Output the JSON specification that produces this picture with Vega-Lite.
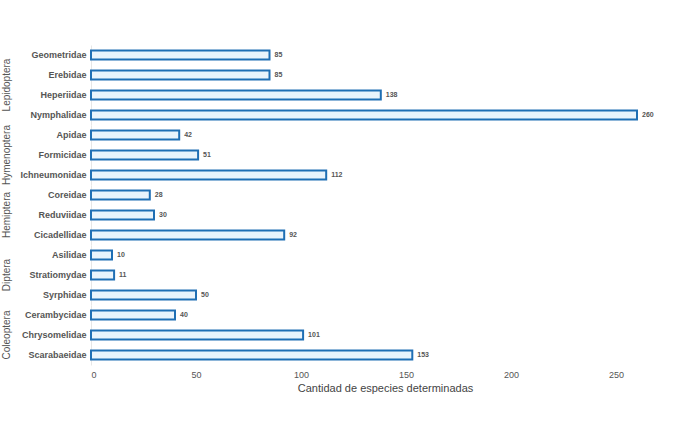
{
  "$schema": "https://vega.github.io/schema/vega-lite/v6.json",
  "padding": {"top": 45, "left": 2, "right": 5, "bottom": 5},
  "background": "white",
  "data": {
    "values": [
      {"orden": "Lepidoptera", "oi": 1, "familia": "Geometridae", "fi": 1, "n": 85},
      {"orden": "Lepidoptera", "oi": 1, "familia": "Erebidae", "fi": 2, "n": 85},
      {"orden": "Lepidoptera", "oi": 1, "familia": "Heperiidae", "fi": 3, "n": 138},
      {"orden": "Lepidoptera", "oi": 1, "familia": "Nymphalidae", "fi": 4, "n": 260},
      {"orden": "Hymenoptera", "oi": 2, "familia": "Apidae", "fi": 5, "n": 42},
      {"orden": "Hymenoptera", "oi": 2, "familia": "Formicidae", "fi": 6, "n": 51},
      {"orden": "Hymenoptera", "oi": 2, "familia": "Ichneumonidae", "fi": 7, "n": 112},
      {"orden": "Hemiptera", "oi": 3, "familia": "Coreidae", "fi": 8, "n": 28},
      {"orden": "Hemiptera", "oi": 3, "familia": "Reduviidae", "fi": 9, "n": 30},
      {"orden": "Hemiptera", "oi": 3, "familia": "Cicadellidae", "fi": 10, "n": 92},
      {"orden": "Diptera", "oi": 4, "familia": "Asilidae", "fi": 11, "n": 10},
      {"orden": "Diptera", "oi": 4, "familia": "Stratiomydae", "fi": 12, "n": 11},
      {"orden": "Diptera", "oi": 4, "familia": "Syrphidae", "fi": 13, "n": 50},
      {"orden": "Coleoptera", "oi": 5, "familia": "Cerambycidae", "fi": 14, "n": 40},
      {"orden": "Coleoptera", "oi": 5, "familia": "Chrysomelidae", "fi": 15, "n": 101},
      {"orden": "Coleoptera", "oi": 5, "familia": "Scarabaeidae", "fi": 16, "n": 153}
    ]
  },
  "facet": {
    "row": {
      "field": "orden",
      "type": "nominal",
      "sort": {"field": "oi", "op": "min"},
      "title": null,
      "header": {
        "labelAngle": -90,
        "labelOrient": "left",
        "labelFontSize": 10,
        "labelColor": "#555555",
        "labelFont": "Liberation Sans",
        "labelPadding": 2
      }
    }
  },
  "spacing": 0,
  "resolve": {"scale": {"y": "independent"}},
  "spec": {
    "width": 588,
    "height": {"step": 20},
    "encoding": {
      "y": {
        "field": "familia",
        "type": "nominal",
        "sort": {"field": "fi", "op": "min"},
        "title": null,
        "scale": {"paddingInner": 0.55, "paddingOuter": 0.275},
        "axis": {
          "ticks": false,
          "domain": true,
          "domainColor": "#e6e6e6",
          "labelFontSize": 9,
          "labelFontWeight": "bold",
          "labelColor": "#555555",
          "labelFont": "Liberation Sans",
          "labelPadding": 5
        }
      },
      "x": {
        "field": "n",
        "type": "quantitative",
        "scale": {"domain": [0, 280], "nice": false},
        "title": "Cantidad de especies determinadas",
        "axis": {
          "values": [0, 50, 100, 150, 200, 250],
          "grid": false,
          "domain": false,
          "ticks": false,
          "labelFontSize": 9,
          "labelColor": "#555555",
          "labelFont": "Liberation Sans",
          "labelPadding": 5,
          "titleFontSize": 11,
          "titleFontWeight": "normal",
          "titleColor": "#444444",
          "titleFont": "Liberation Sans",
          "titlePadding": 3
        }
      }
    },
    "layer": [
      {
        "mark": {"type": "bar", "fill": "#e9f4fc", "stroke": "#1f6fb4", "strokeWidth": 2, "cornerRadius": 0}
      },
      {
        "mark": {"type": "text", "align": "left", "dx": 5, "fontSize": 7, "fontWeight": "bold", "fill": "#555555", "font": "Liberation Sans"},
        "encoding": {"text": {"field": "n", "type": "quantitative"}}
      }
    ]
  },
  "config": {"view": {"stroke": null}}
}
